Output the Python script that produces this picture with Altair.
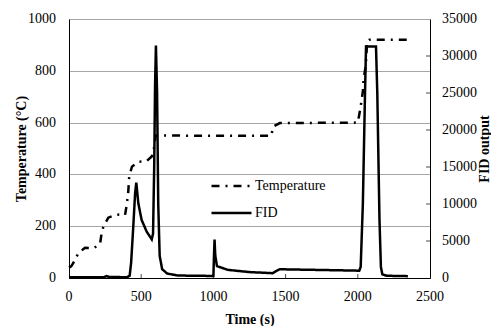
import altair as alt
import pandas as pd

# Temperature series (time s, °C)
temp_t = [0, 15, 30, 64, 110, 170, 215, 226, 238, 272, 330, 388, 399, 410, 417, 436,
          480, 535, 573, 589, 600, 700, 1000, 1400, 1415, 1460, 2000, 2010, 2020, 2035,
          2040, 2055, 2065, 2080, 2350]
temp_v = [40, 45, 58, 95, 117, 115, 131, 174, 198, 233, 245, 243, 280, 330, 392, 430,
          449, 450, 469, 503, 550, 550, 549, 549, 585, 598, 600, 630, 663, 720,
          766, 820, 914, 920, 920]

# FID output series (time s, counts)
fid_t = [0, 240, 260, 280, 400, 420, 430, 445, 458, 466, 480, 503, 538, 573, 582, 590,
         596, 602, 610, 618, 628, 645, 680, 750, 850, 1000, 1004, 1008, 1013, 1025,
         1100, 1250, 1410, 1440, 1460, 1700, 2010, 2020, 2035, 2050, 2057, 2126, 2135,
         2150, 2160, 2170, 2200, 2347]
fid_v = [100, 100, 250, 150, 100, 300, 2000, 6900, 11500, 12900, 10100, 7840, 6260, 5230,
         6000, 15000, 26000, 31400, 25000, 10000, 3000, 1200, 600, 350, 300, 280, 3000,
         5200, 3000, 1600, 1100, 800, 650, 1000, 1180, 1100, 990, 1500, 10000, 25000,
         31300, 31300, 25000, 8000, 1500, 500, 300, 250]

x_labels = [0, 500, 1000, 1500, 2000, 2500]
t_labels = [0, 200, 400, 600, 800, 1000]
f_labels = [0, 5000, 10000, 15000, 20000, 25000, 30000, 35000]
x_ticks = [500, 1000, 1500, 2000]
fid_ticks = [5000, 10000, 15000, 20000, 25000, 30000]
series = ["Temperature", "FID"]

temp_df = pd.DataFrame({"t": temp_t, "v": temp_v, "series": series[0]})
fid_df = pd.DataFrame({"t": fid_t, "F": fid_v, "series": series[1]})
xt_df = pd.DataFrame({"t": x_ticks})
xl_df = pd.DataFrame({"t": x_labels})
tl_df = pd.DataFrame({"v": t_labels})
fl_df = pd.DataFrame({"F": f_labels})
ft_df = pd.DataFrame({"F": fid_ticks})

FONT = "Liberation Serif"
W, H = 361, 259

xscale = alt.Scale(domain=[0, 2500], nice=False)
tscale = alt.Scale(domain=[0, 1000], nice=False)
fscale = alt.Scale(domain=[0, 35000], nice=False)

dash = alt.StrokeDash(
    "series:N",
    scale=alt.Scale(domain=series, range=[[8, 6, 2, 6], [1, 0]]),
    legend=alt.Legend(
        title=None, orient="none", legendX=141, legendY=160,
        symbolType="stroke", symbolSize=1600, symbolStrokeWidth=2.5,
        symbolStrokeColor="black", labelFont=FONT, labelFontSize=14,
        labelColor="black", labelOffset=2, rowPadding=13, clipHeight=14,
    ),
)

common = dict(labels=False, labelPadding=0, titleFont=FONT, titleFontSize=14,
              titleFontWeight="bold", titleColor="black", domainColor="black",
              tickSize=0)

xaxis = alt.Axis(values=x_labels, title="Time (s)", grid=False, titlePadding=34, **common)
taxis = alt.Axis(values=t_labels, title="Temperature (°C)", orient="left", grid=True,
                 gridColor="#a6a6a6", titlePadding=40, **common)
faxis = alt.Axis(values=f_labels, title="FID output", orient="right", grid=False,
                 titlePadding=61, titleAngle=270, **common)

txt = dict(font=FONT, fontSize=14, color="black")

temp_line = alt.Chart(temp_df).mark_line(color="black", strokeWidth=2.5).encode(
    x=alt.X("t:Q", scale=xscale, axis=xaxis),
    y=alt.Y("v:Q", scale=tscale, axis=taxis),
    strokeDash=dash,
)
temp_labels = alt.Chart(tl_df).mark_text(align="right", baseline="middle", **txt).encode(
    y=alt.Y("v:Q", scale=tscale, axis=taxis), x=alt.value(-13),
    text=alt.Text("v:Q", format="d"),
)

fid_line = alt.Chart(fid_df).mark_line(color="black", strokeWidth=2.5).encode(
    x=alt.X("t:Q", scale=xscale, axis=xaxis),
    y=alt.Y("F:Q", scale=fscale, axis=faxis),
    strokeDash=dash,
)
fid_tick_marks = alt.Chart(ft_df).mark_tick(color="black", thickness=1, size=4).encode(
    y=alt.Y("F:Q", scale=fscale, axis=faxis), x=alt.value(W - 2)
)
fid_labels = alt.Chart(fl_df).mark_text(align="left", baseline="middle", **txt).encode(
    y=alt.Y("F:Q", scale=fscale, axis=faxis), x=alt.value(W + 12),
    text=alt.Text("F:Q", format="d"),
)

x_tick_marks = alt.Chart(xt_df).mark_tick(color="black", thickness=1, size=4).encode(
    x=alt.X("t:Q", scale=xscale, axis=xaxis), y=alt.value(H - 2)
)
x_label_marks = alt.Chart(xl_df).mark_text(align="center", baseline="middle", **txt).encode(
    x=alt.X("t:Q", scale=xscale, axis=xaxis), y=alt.value(H + 19),
    text=alt.Text("t:Q", format="d"),
)

temp_layer = alt.layer(temp_line, temp_labels)
fid_layer = alt.layer(fid_line, fid_tick_marks, fid_labels)

chart = alt.layer(temp_layer, fid_layer, x_tick_marks, x_label_marks).resolve_scale(
    y="independent"
).properties(
    width=W, height=H,
    autosize=alt.AutoSizeParams(type="none"),
    padding={"left": 61, "top": 11, "right": 61, "bottom": 48},
).configure_view(stroke=None).configure(background="white", font=FONT)

chart.save("out.html", embed_options={"renderer": "svg", "actions": False})
